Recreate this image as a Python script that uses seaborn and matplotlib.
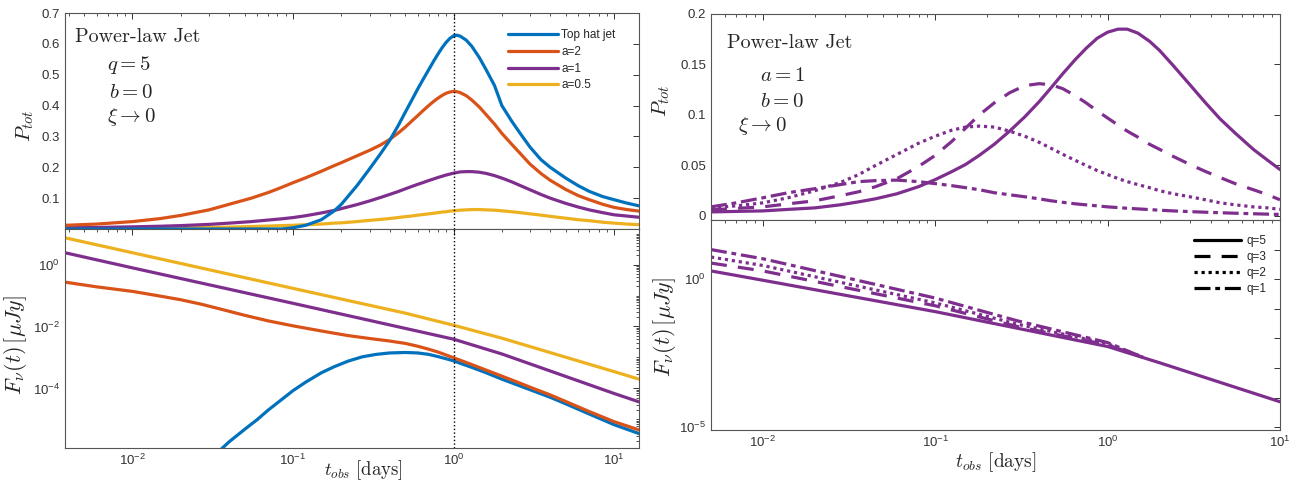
import numpy as np
import pandas as pd
import matplotlib
matplotlib.use("Agg")
import matplotlib.pyplot as plt
import seaborn as sns
from matplotlib.ticker import FixedLocator, LogLocator, FuncFormatter, NullFormatter
from matplotlib.lines import Line2D

# ---------------- data ----------------
# left, top: P_tot for q=5, b=0
t_ptot_left = [0.0038, 0.006, 0.01, 0.015, 0.02, 0.03, 0.04, 0.055, 0.07, 0.085, 0.1, 0.12,
               0.15, 0.18, 0.2, 0.25, 0.3, 0.35, 0.4, 0.45, 0.5, 0.55, 0.6, 0.65, 0.7, 0.75,
               0.8, 0.85, 0.9, 0.95, 1.0, 1.05, 1.1, 1.2, 1.3, 1.45, 1.6, 1.8, 2.0, 2.3, 2.6,
               3.0, 3.5, 4, 5, 6, 7, 8.5, 10, 12, 14.3]
ptot_tophat = [0, 0, 0, 0, 0, 0, 0, 0, 0, 0, 0.004, 0.012,
               0.03, 0.058, 0.08, 0.14, 0.195, 0.243, 0.287, 0.333, 0.378, 0.418, 0.455, 0.487, 0.516, 0.543,
               0.567, 0.588, 0.605, 0.618, 0.626, 0.628, 0.625, 0.612, 0.592, 0.555, 0.515, 0.465, 0.40, 0.35, 0.31,
               0.265, 0.225, 0.20, 0.165, 0.14, 0.122, 0.105, 0.095, 0.084, 0.075]
ptot_a2 = [0.012, 0.016, 0.024, 0.034, 0.044, 0.062, 0.08, 0.1, 0.118, 0.135, 0.15, 0.166,
           0.187, 0.205, 0.215, 0.237, 0.255, 0.272, 0.29, 0.31, 0.33, 0.35, 0.368, 0.385, 0.40, 0.413,
           0.424, 0.433, 0.44, 0.444, 0.446, 0.445, 0.442, 0.432, 0.418, 0.395, 0.37, 0.34, 0.31, 0.275, 0.245,
           0.21, 0.18, 0.158, 0.128, 0.108, 0.095, 0.08, 0.07, 0.063, 0.058]
ptot_a1 = [0.004, 0.005, 0.007, 0.009, 0.011, 0.015, 0.019, 0.024, 0.029, 0.033, 0.037, 0.043,
           0.052, 0.06, 0.066, 0.079, 0.091, 0.102, 0.112, 0.121, 0.13, 0.138, 0.145, 0.151, 0.157, 0.162,
           0.167, 0.171, 0.175, 0.178, 0.181, 0.183, 0.185, 0.186, 0.186, 0.184, 0.18, 0.173, 0.165, 0.153, 0.141,
           0.127, 0.112, 0.10, 0.083, 0.071, 0.062, 0.053, 0.046, 0.042, 0.038]
ptot_a05 = [0.001, 0.0015, 0.002, 0.003, 0.004, 0.005, 0.006, 0.008, 0.0095, 0.011, 0.012, 0.014,
            0.016, 0.019, 0.02, 0.024, 0.028, 0.031, 0.034, 0.037, 0.04, 0.042, 0.045, 0.047, 0.049, 0.051,
            0.053, 0.055, 0.056, 0.058, 0.059, 0.06, 0.061, 0.062, 0.063, 0.063, 0.062, 0.061, 0.059, 0.056, 0.053,
            0.049, 0.045, 0.041, 0.035, 0.03, 0.027, 0.022, 0.019, 0.016, 0.014]

# left, bottom: flux
t_flux_tophat = [0.03, 0.035, 0.04, 0.05, 0.06, 0.07, 0.085, 0.1, 0.12, 0.15, 0.18, 0.22, 0.27,
                 0.33, 0.4, 0.5, 0.6, 0.7, 0.8, 0.9, 1.0, 1.15, 1.3, 1.6, 2, 2.5, 3, 4, 5, 7, 10, 14.3]
flux_tophat = [5e-7, 1.0e-6, 1.9e-6, 4.8e-6, 1.0e-5, 2.0e-5, 4.4e-5, 8.5e-5, 1.6e-4, 3.2e-4, 5e-4,
               7.6e-4, 1.05e-3, 1.26e-3, 1.4e-3, 1.45e-3, 1.4e-3, 1.26e-3, 1.07e-3, 9.1e-4, 7.8e-4,
               6.0e-4, 4.8e-4, 3.2e-4, 2.0e-4, 1.3e-4, 9.1e-5, 5.2e-5, 3.2e-5, 1.5e-5, 6.8e-6, 3.5e-6]
t_flux_a2 = [0.0038, 0.006, 0.01, 0.015, 0.02, 0.027, 0.035, 0.05, 0.07, 0.1, 0.13, 0.17, 0.22,
             0.3, 0.4, 0.5, 0.6, 0.7, 0.8, 0.9, 1.0, 1.15, 1.3, 1.6, 2, 2.5, 3, 4, 5, 7, 10, 14.3]
flux_a2 = [0.27, 0.19, 0.136, 0.095, 0.073, 0.052, 0.037, 0.023, 0.0152, 0.0105, 8.2e-3, 6.4e-3,
           5.1e-3, 4.1e-3, 3.4e-3, 2.85e-3, 2.3e-3, 1.85e-3, 1.5e-3, 1.2e-3, 9.8e-4, 7.5e-4, 5.9e-4,
           3.9e-4, 2.5e-4, 1.6e-4, 1.1e-4, 6.2e-5, 3.8e-5, 1.8e-5, 8.5e-6, 4.6e-6]
t_flux_ax = [0.0038, 0.01, 0.1, 0.5, 1, 2, 10, 14.3]
flux_a1 = [2.4, 0.78, 0.056, 8.7e-3, 3.9e-3, 1.3e-3, 6.9e-5, 3.7e-5]
flux_a05 = [7.3, 2.4, 0.17, 0.027, 0.011, 4.2e-3, 3.5e-4, 2.0e-4]

# right, top: P_tot for a=1, b=0
t_ptot_right = [0.005, 0.007, 0.01, 0.014, 0.02, 0.028, 0.036, 0.045, 0.06, 0.08, 0.1, 0.125,
                0.15, 0.18, 0.22, 0.27, 0.33, 0.4, 0.47, 0.55, 0.65, 0.75, 0.87, 1.0, 1.15, 1.3,
                1.5, 1.75, 2.0, 2.4, 3, 3.7, 4.5, 5.5, 7, 8.5, 10]
ptot_q5 = [0.004, 0.0045, 0.005, 0.0065, 0.008, 0.011, 0.014, 0.017, 0.022, 0.029, 0.036, 0.044,
           0.051, 0.06, 0.071, 0.084, 0.098, 0.113, 0.127, 0.141, 0.155, 0.166, 0.176, 0.182, 0.185,
           0.185, 0.181, 0.173, 0.164, 0.149, 0.13, 0.112, 0.096, 0.082, 0.066, 0.055, 0.046]
ptot_q3 = [0.006, 0.0075, 0.009, 0.012, 0.015, 0.02, 0.024, 0.029, 0.037, 0.049, 0.06, 0.074,
           0.087, 0.10, 0.112, 0.122, 0.129, 0.131, 0.13, 0.126, 0.119, 0.112, 0.104, 0.097, 0.09,
           0.084, 0.078, 0.071, 0.066, 0.059, 0.051, 0.044, 0.038, 0.032, 0.026, 0.021, 0.016]
ptot_q2 = [0.008, 0.01, 0.013, 0.018, 0.025, 0.033, 0.041, 0.05, 0.061, 0.072, 0.079, 0.085,
           0.088, 0.089, 0.088, 0.084, 0.079, 0.073, 0.067, 0.061, 0.055, 0.05, 0.045, 0.041, 0.037,
           0.034, 0.031, 0.028, 0.025, 0.022, 0.019, 0.016, 0.013, 0.011, 0.009, 0.008, 0.0065]
ptot_q1 = [0.009, 0.013, 0.018, 0.023, 0.027, 0.031, 0.034, 0.035, 0.0355, 0.034, 0.032, 0.03,
           0.028, 0.026, 0.023, 0.021, 0.019, 0.017, 0.015, 0.0135, 0.012, 0.011, 0.01, 0.009, 0.0083,
           0.0076, 0.007, 0.0063, 0.0057, 0.005, 0.0043, 0.0037, 0.0032, 0.0027, 0.0022, 0.0018, 0.0015]

# right, bottom: flux
t_flux_q5 = [0.005, 0.01, 0.1, 1, 2, 10]
flux_q5 = [1.9, 0.92, 0.08, 5.3e-3, 1.5e-3, 7.2e-5]
t_flux_q = [0.005, 0.01, 0.1, 0.3, 1, 1.6]
flux_q3 = [3.5, 1.9, 0.126, 0.025, 6.0e-3, 2.3e-3]
flux_q2 = [5.6, 2.9, 0.158, 0.030, 6.6e-3, 2.3e-3]
flux_q1 = [10, 4.9, 0.23, 0.039, 7.2e-3, 2.3e-3]

left_labels = ["Top hat jet", "a=2", "a=1", "a=0.5"]
right_labels = ["q=5", "q=3", "q=2", "q=1"]

# ---------------- style ----------------
sns.set_style("white")
plt.rcParams["font.family"] = ["Liberation Sans", "DejaVu Sans"]
plt.rcParams["mathtext.fontset"] = "cm"

blue, orange, purple, yellow = "#0072BD", "#D95319", "#7E2F8E", "#EDB120"
spine_col = "#555555"
lw = 2.3
styles = ["-", (0, (5, 3.5)), (0, (1, 1.2)), (0, (5, 1.5, 1.5, 1.5))]

W, H = 1305, 483
fig = plt.figure(figsize=(W / 100, H / 100), dpi=100)
ax_lt = fig.add_axes([65 / W, 1 - 229 / H, 574 / W, 216 / H])
ax_lb = fig.add_axes([65 / W, 1 - 448 / H, 574 / W, 219 / H])
ax_rt = fig.add_axes([711 / W, 1 - 220 / H, 569 / W, 206 / H])
ax_rb = fig.add_axes([711 / W, 1 - 430 / H, 569 / W, 210 / H])


def sup_fmt(v, pos):
    return r"$\mathregular{10^{%d}}$" % int(round(np.log10(v)))


def style_axis(ax):
    ax.set_xscale("log")
    for s in ax.spines.values():
        s.set_color(spine_col)
        s.set_linewidth(0.8)
    ax.tick_params(which="both", direction="in", top=True, right=True,
                   colors="#333333", labelsize=9.5)
    ax.tick_params(which="major", length=4, width=0.7)
    ax.tick_params(which="minor", length=2, width=0.6)
    ax.xaxis.set_major_locator(LogLocator(base=10))
    ax.xaxis.set_minor_locator(LogLocator(base=10, subs=np.arange(2, 10) * 1.0, numticks=30))
    ax.xaxis.set_minor_formatter(NullFormatter())


def plot_series(ax, t, y, color, ls="-"):
    df = pd.DataFrame({"t": t, "y": y})
    sns.lineplot(data=df, x="t", y="y", ax=ax, color=color, lw=lw, linestyle=ls,
                 sort=False, legend=False)


for ax in (ax_lt, ax_lb, ax_rt, ax_rb):
    style_axis(ax)

# ---- left top
for vals, c in zip([ptot_a05, ptot_a1, ptot_a2, ptot_tophat], [yellow, purple, orange, blue]):
    plot_series(ax_lt, t_ptot_left, vals, c)
ax_lt.set_xlim(0.0038, 14.3)
ax_lt.set_ylim(0, 0.7)
ax_lt.set_yticks([0.1, 0.2, 0.3, 0.4, 0.5, 0.6, 0.7])
ax_lt.set_yticklabels(["0.1", "0.2", "0.3", "0.4", "0.5", "0.6", "0.7"])
ax_lt.tick_params(labelbottom=False)
ax_lt.axvline(1.0, color="k", ls=":", lw=1.0)
ax_lt.set_xlabel("")
ax_lt.set_ylabel(r"$P_{tot}$", fontsize=15)
ax_lt.yaxis.set_label_coords(-0.05, 0.48)
ax_lt.text(0.017, 0.889, "Power-law Jet", transform=ax_lt.transAxes, family="cmr10",
           fontsize=14.5, va="center", ha="left")
ax_lt.text(0.074, 0.76, r"$q=5$", transform=ax_lt.transAxes, fontsize=15, va="center")
ax_lt.text(0.076, 0.634, r"$b=0$", transform=ax_lt.transAxes, fontsize=15, va="center")
ax_lt.text(0.074, 0.52, r"$\xi\rightarrow0$", transform=ax_lt.transAxes, fontsize=15, va="center")
h_left = [Line2D([], [], color=c, lw=lw) for c in [blue, orange, purple, yellow]]
ax_lt.legend(h_left, left_labels, loc="upper left", bbox_to_anchor=(0.772, 0.925),
             frameon=False, fontsize=8.5, handlelength=4.2, handletextpad=0.3,
             labelspacing=0.4, borderpad=0, borderaxespad=0)

# ---- left bottom
plot_series(ax_lb, t_flux_tophat, flux_tophat, blue)
plot_series(ax_lb, t_flux_a2, flux_a2, orange)
plot_series(ax_lb, t_flux_ax, flux_a1, purple)
plot_series(ax_lb, t_flux_ax, flux_a05, yellow)
ax_lb.set_yscale("log")
ax_lb.set_xlim(0.0038, 14.3)
ax_lb.set_ylim(1.2e-6, 14)
ax_lb.yaxis.set_major_locator(FixedLocator([1e-4, 1e-2, 1]))
ax_lb.yaxis.set_minor_locator(LogLocator(base=10, subs=np.arange(1, 10) * 1.0, numticks=40))
ax_lb.yaxis.set_minor_formatter(NullFormatter())
ax_lb.yaxis.set_major_formatter(FuncFormatter(sup_fmt))
ax_lb.xaxis.set_major_formatter(FuncFormatter(sup_fmt))
ax_lb.axvline(1.0, color="k", ls=":", lw=1.0)
ax_lb.set_ylabel(r"$F_\nu(t)\,[\mu Jy]$", fontsize=16)
ax_lb.yaxis.set_label_coords(-0.062, 0.47)
ax_lb.set_xlabel(r"$t_{obs}\ [\mathrm{days}]$", fontsize=13.5)
ax_lb.xaxis.set_label_coords(0.52, -0.045)

# ---- right top
for vals, ls in zip([ptot_q5, ptot_q3, ptot_q2, ptot_q1], styles):
    plot_series(ax_rt, t_ptot_right, vals, purple, ls)
ax_rt.set_xlim(0.005, 10)
ax_rt.set_ylim(-0.004, 0.2)
ax_rt.set_yticks([0, 0.05, 0.1, 0.15, 0.2])
ax_rt.set_yticklabels(["0", "0.05", "0.1", "0.15", "0.2"])
ax_rt.tick_params(labelbottom=False)
ax_rt.set_xlabel("")
ax_rt.set_ylabel(r"$P_{tot}$", fontsize=15)
ax_rt.yaxis.set_label_coords(-0.068, 0.58)
ax_rt.text(0.028, 0.859, "Power-law Jet", transform=ax_rt.transAxes, family="cmr10",
           fontsize=14.5, va="center", ha="left")
ax_rt.text(0.086, 0.70, r"$a=1$", transform=ax_rt.transAxes, fontsize=15, va="center")
ax_rt.text(0.086, 0.573, r"$b=0$", transform=ax_rt.transAxes, fontsize=15, va="center")
ax_rt.text(0.047, 0.456, r"$\xi\rightarrow0$", transform=ax_rt.transAxes, fontsize=15, va="center")

# ---- right bottom
plot_series(ax_rb, t_flux_q5, flux_q5, purple, styles[0])
plot_series(ax_rb, t_flux_q, flux_q3, purple, styles[1])
plot_series(ax_rb, t_flux_q, flux_q2, purple, styles[2])
plot_series(ax_rb, t_flux_q, flux_q1, purple, styles[3])
ax_rb.set_yscale("log")
ax_rb.set_xlim(0.005, 10)
ax_rb.set_ylim(8e-6, 100)
ax_rb.yaxis.set_major_locator(FixedLocator([1e-5, 1e-4, 1e-3, 1e-2, 1e-1, 1, 10]))
ax_rb.yaxis.set_minor_locator(FixedLocator([]))
ax_rb.yaxis.set_major_formatter(FuncFormatter(
    lambda v, p: sup_fmt(v, p) if round(np.log10(v)) in (0, -5) else ""))
ax_rb.xaxis.set_major_formatter(FuncFormatter(sup_fmt))
ax_rb.set_ylabel(r"$F_\nu(t)\,[\mu Jy]$", fontsize=16)
ax_rb.yaxis.set_label_coords(-0.058, 0.49)
ax_rb.set_xlabel(r"$t_{obs}\ [\mathrm{days}]$", fontsize=14)
ax_rb.xaxis.set_label_coords(0.5, -0.095)
h_right = [Line2D([], [], color="k", lw=lw, linestyle=s) for s in styles]
ax_rb.legend(h_right, right_labels, loc="upper left", bbox_to_anchor=(0.849, 0.93),
             frameon=False, fontsize=8.5, handlelength=4.0, handletextpad=0.4,
             labelspacing=0.35, borderpad=0, borderaxespad=0)

fig.savefig("out.png", dpi=100)
